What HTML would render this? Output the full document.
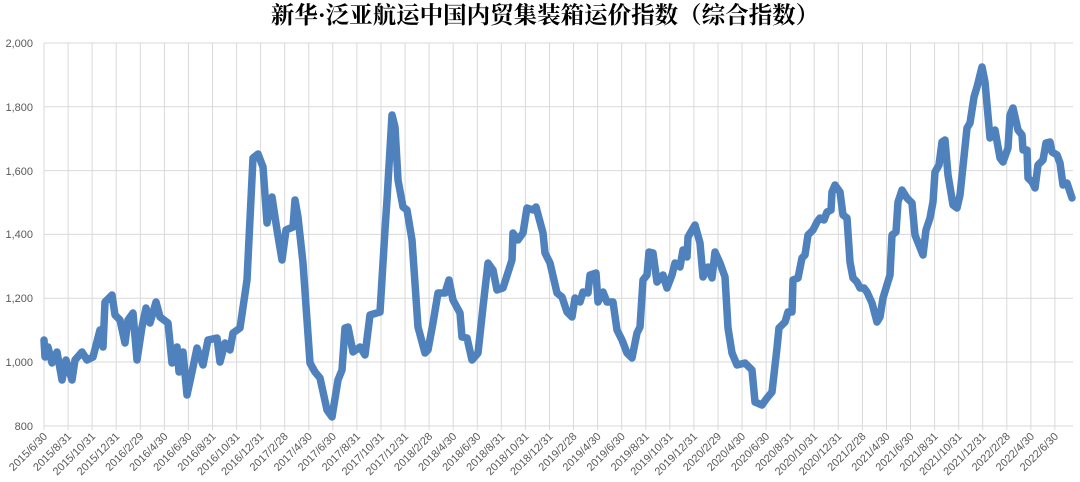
<!DOCTYPE html>
<html><head><meta charset="utf-8"><style>
html,body{margin:0;padding:0;background:#fff;}
svg{display:block;}
.t{font-family:"Liberation Sans",sans-serif;font-size:11px;fill:#595959;}
</style></head><body>
<svg width="1080" height="482" viewBox="0 0 1080 482" xmlns="http://www.w3.org/2000/svg">
<text x="545" y="23" text-anchor="middle" style="font-family:'Liberation Serif','Noto Serif CJK SC',serif;font-size:23.5px;font-weight:bold;fill:#000;">新华·泛亚航运中国内贸集装箱运价指数（综合指数）</text>
<g stroke="#d9d9d9" stroke-width="1">
<path d="M44 43H1073M44 106.8H1073M44 170.6H1073M44 234.4H1073M44 298.2H1073M44 362H1073M44 426H1073"/>
<path d="M44 43V430M68.1 43V430M92.1 43V430M116.2 43V430M140.3 43V430M164.4 43V430M188.4 43V430M212.5 43V430M236.6 43V430M260.6 43V430M284.7 43V430M308.8 43V430M332.8 43V430M356.9 43V430M381 43V430M405.1 43V430M429.1 43V430M453.2 43V430M477.3 43V430M501.3 43V430M525.4 43V430M549.5 43V430M573.5 43V430M597.6 43V430M621.7 43V430M645.8 43V430M669.8 43V430M693.9 43V430M718 43V430M742 43V430M766.1 43V430M790.2 43V430M814.2 43V430M838.3 43V430M862.4 43V430M886.5 43V430M910.5 43V430M934.6 43V430M958.7 43V430M982.7 43V430M1006.8 43V430M1030.9 43V430M1054.9 43V430"/>
</g>
<g class="t" text-anchor="end">
<text x="33" y="47">2,000</text><text x="33" y="111">1,800</text><text x="33" y="175">1,600</text><text x="33" y="238">1,400</text><text x="33" y="302">1,200</text><text x="33" y="366">1,000</text><text x="33" y="430">800</text>
</g>
<g class="t" text-anchor="end">
<text transform="translate(48,437) rotate(-45)">2015/6/30</text>
<text transform="translate(72.1,437) rotate(-45)">2015/8/31</text>
<text transform="translate(96.1,437) rotate(-45)">2015/10/31</text>
<text transform="translate(120.2,437) rotate(-45)">2015/12/31</text>
<text transform="translate(144.3,437) rotate(-45)">2016/2/29</text>
<text transform="translate(168.4,437) rotate(-45)">2016/4/30</text>
<text transform="translate(192.4,437) rotate(-45)">2016/6/30</text>
<text transform="translate(216.5,437) rotate(-45)">2016/8/31</text>
<text transform="translate(240.6,437) rotate(-45)">2016/10/31</text>
<text transform="translate(264.6,437) rotate(-45)">2016/12/31</text>
<text transform="translate(288.7,437) rotate(-45)">2017/2/28</text>
<text transform="translate(312.8,437) rotate(-45)">2017/4/30</text>
<text transform="translate(336.8,437) rotate(-45)">2017/6/30</text>
<text transform="translate(360.9,437) rotate(-45)">2017/8/31</text>
<text transform="translate(385,437) rotate(-45)">2017/10/31</text>
<text transform="translate(409.1,437) rotate(-45)">2017/12/31</text>
<text transform="translate(433.1,437) rotate(-45)">2018/2/28</text>
<text transform="translate(457.2,437) rotate(-45)">2018/4/30</text>
<text transform="translate(481.3,437) rotate(-45)">2018/6/30</text>
<text transform="translate(505.3,437) rotate(-45)">2018/8/31</text>
<text transform="translate(529.4,437) rotate(-45)">2018/10/31</text>
<text transform="translate(553.5,437) rotate(-45)">2018/12/31</text>
<text transform="translate(577.5,437) rotate(-45)">2019/2/28</text>
<text transform="translate(601.6,437) rotate(-45)">2019/4/30</text>
<text transform="translate(625.7,437) rotate(-45)">2019/6/30</text>
<text transform="translate(649.8,437) rotate(-45)">2019/8/31</text>
<text transform="translate(673.8,437) rotate(-45)">2019/10/31</text>
<text transform="translate(697.9,437) rotate(-45)">2019/12/31</text>
<text transform="translate(722,437) rotate(-45)">2020/2/29</text>
<text transform="translate(746,437) rotate(-45)">2020/4/30</text>
<text transform="translate(770.1,437) rotate(-45)">2020/6/30</text>
<text transform="translate(794.2,437) rotate(-45)">2020/8/31</text>
<text transform="translate(818.2,437) rotate(-45)">2020/10/31</text>
<text transform="translate(842.3,437) rotate(-45)">2020/12/31</text>
<text transform="translate(866.4,437) rotate(-45)">2021/2/28</text>
<text transform="translate(890.5,437) rotate(-45)">2021/4/30</text>
<text transform="translate(914.5,437) rotate(-45)">2021/6/30</text>
<text transform="translate(938.6,437) rotate(-45)">2021/8/31</text>
<text transform="translate(962.7,437) rotate(-45)">2021/10/31</text>
<text transform="translate(986.7,437) rotate(-45)">2021/12/31</text>
<text transform="translate(1010.8,437) rotate(-45)">2022/2/28</text>
<text transform="translate(1034.9,437) rotate(-45)">2022/4/30</text>
<text transform="translate(1058.9,437) rotate(-45)">2022/6/30</text>
</g>
<polyline fill="none" stroke="#4f81bd" stroke-width="7.5" stroke-linejoin="round" stroke-linecap="round" points="
44,340 45,357 48,347 52,363 57,352 62,380 66,360 72,380 75,360 82,352 87,360 93,357 100,330 103,347 105,302 112,295 115,315 120,320 125,343 128,320 133,313 137,360 142,327 146,308 150,323 156,302 160,317 168,323 172,363 177,347 179,372 183,352 187,395 192,372 197,348 203,365 208,340 217,338 220,362 225,343 230,350 233,333 240,328 247,280 253,158 258,154 263,167 267,223 272,197 277,230 282,260 286,230 293,227 295,200 298,217 303,263 310,363 315,372 320,378 327,410 332,417 338,380 342,370 345,328 348,327 353,352 360,347 365,355 370,315 380,312 385,230 387,200 392,115 395,127 398,180 403,207 407,210 412,240 418,327 425,353 428,350 433,323 438,293 445,293 449,280 453,300 460,313 462,337 467,338 472,360 478,353 483,307 488,263 493,270 497,290 503,288 512,260 513,233 518,240 523,233 527,208 533,210 536,207 543,233 545,253 550,263 557,293 562,297 567,312 572,317 575,298 580,302 583,292 588,293 590,275 596,273 598,302 603,292 607,302 613,302 617,330 622,340 627,353 632,358 637,333 640,327 643,280 647,275 649,252 653,253 657,282 663,275 667,288 672,275 675,263 680,267 683,250 687,257 688,237 695,225 700,243 703,277 708,267 712,278 715,252 720,263 725,277 728,328 732,353 737,365 745,363 752,370 755,402 762,405 767,398 772,392 777,348 779,328 785,322 788,312 792,312 793,280 798,278 802,258 805,255 808,235 813,230 817,222 820,218 824,220 827,212 831,210 832,192 835,185 840,192 843,215 847,218 850,262 853,278 857,282 860,288 864,288 867,292 872,303 877,322 880,317 883,298 890,275 892,235 896,232 898,202 902,190 907,198 912,203 915,235 919,245 923,255 926,230 930,218 933,202 935,172 939,165 942,142 945,140 948,175 953,205 957,208 960,195 967,128 970,123 974,97 977,87 982,67 985,82 990,138 995,130 1000,158 1003,162 1008,148 1010,115 1013,108 1018,130 1022,135 1023,150 1027,150 1028,178 1032,182 1035,188 1038,165 1043,160 1046,143 1050,142 1052,152 1057,155 1060,163 1063,185 1067,183 1072,198"/>
</svg>
</body></html>
